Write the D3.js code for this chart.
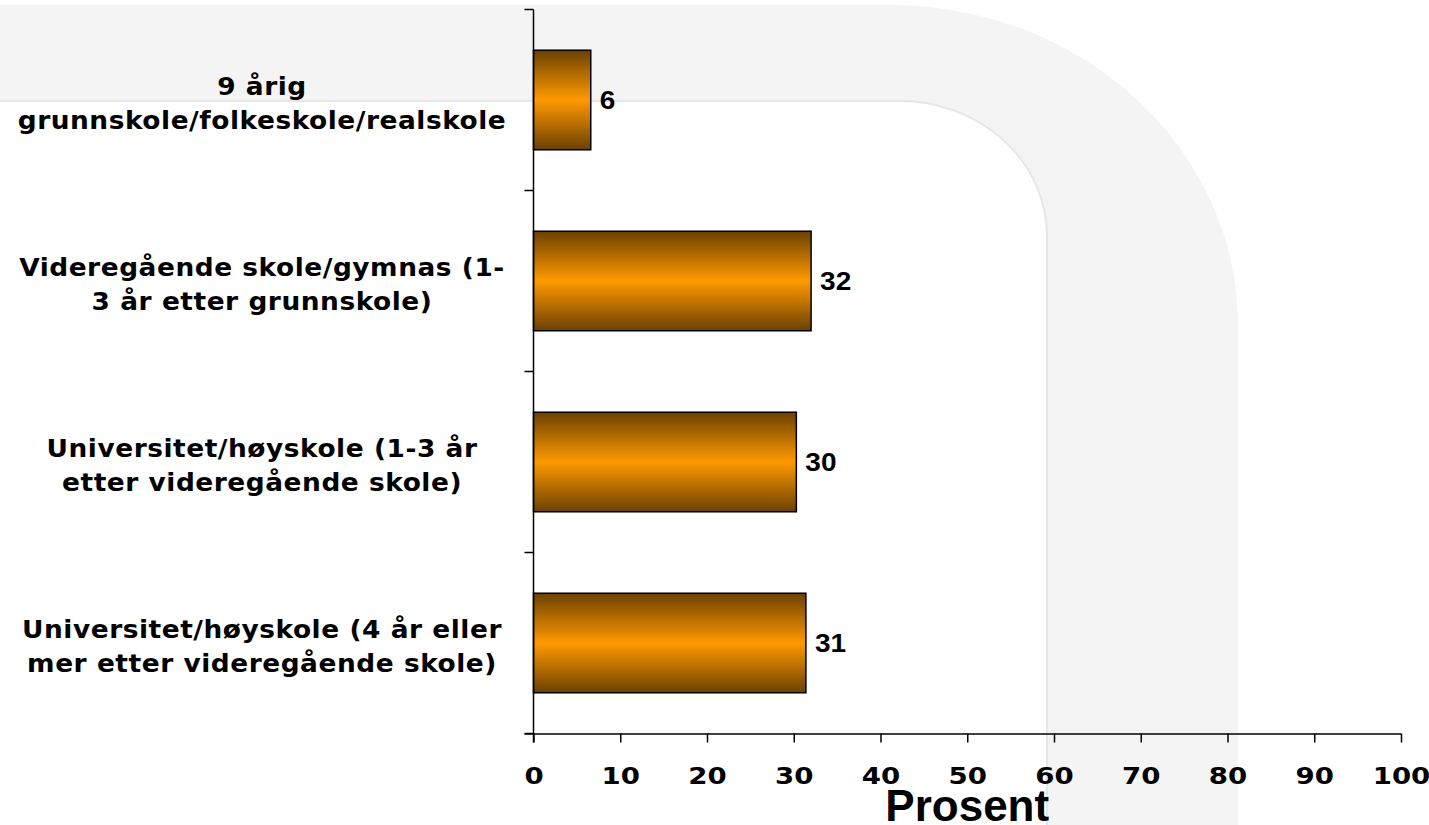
<!DOCTYPE html>
<html>
<head>
<meta charset="utf-8">
<script src="https://cdn.jsdelivr.net/npm/d3@7"></script>
<style>
  body { margin: 0; background: #fff; }
  svg { display: block; }
</style>
</head>
<body>
<svg id="viz" width="1429" height="825"></svg>
<script>
// chart data
var categories = [
  ["9 årig", "grunnskole/folkeskole/realskole"],
  ["Videregående skole/gymnas (1-", "3 år etter grunnskole)"],
  ["Universitet/høyskole (1-3 år", "etter videregående skole)"],
  ["Universitet/høyskole (4 år eller", "mer etter videregående skole)"]
];
var values = [6.6, 32.0, 30.3, 31.4];
var valueLabels = ["6", "32", "30", "31"];
var xTicks = [0, 10, 20, 30, 40, 50, 60, 70, 80, 90, 100];
var xTitle = "Prosent";

var svg = d3.select("#viz"),
  width = +svg.attr("width"),
  height = +svg.attr("height");

var x = d3.scaleLinear().domain([0, 100]).range([533.5, 1401]);
var y = d3
  .scaleBand()
  .domain(d3.range(categories.length))
  .range([9.5, 733.5])
  .paddingInner(0.45)
  .paddingOuter(0.225);

// light grey background band (decoration from the slide)
var bg = svg.append("g").attr("class", "bg");
bg.append("path")
  .attr(
    "d",
    "M0,5 H890 A348,320 0 0 1 1238,325 V825 H1047 V236 A147,135 0 0 0 900,101 H0 Z"
  )
  .attr("fill", "#f4f4f4");
bg.append("path")
  .attr("d", "M0,101 H900 A147,135 0 0 1 1047,236 V825")
  .attr("fill", "none")
  .attr("stroke", "#e6e6e6")
  .attr("stroke-width", 2);

// bar gradient
var defs = svg.append("defs");
var grad = defs
  .append("linearGradient")
  .attr("id", "barGrad")
  .attr("x1", 0)
  .attr("y1", 0)
  .attr("x2", 0)
  .attr("y2", 1);
grad.append("stop").attr("offset", "0%").attr("stop-color", "#6b4100");
grad.append("stop").attr("offset", "50%").attr("stop-color", "#ff9900");
grad.append("stop").attr("offset", "100%").attr("stop-color", "#6b4100");

// bars
svg
  .append("g")
  .attr("class", "bars")
  .selectAll("rect")
  .data(values)
  .enter()
  .append("rect")
  .attr("x", x(0))
  .attr("y", function(d, i) {
    return y(i);
  })
  .attr("width", function(d) {
    return x(d) - x(0);
  })
  .attr("height", y.bandwidth())
  .attr("fill", "url(#barGrad)")
  .attr("stroke", "#000")
  .attr("stroke-width", 1.5);

// value labels (text in the original is a bit stretched sideways)
svg
  .append("g")
  .attr("class", "values")
  .selectAll("text")
  .data(values)
  .enter()
  .append("text")
  .attr("transform", function(d, i) {
    return (
      "translate(" + (x(d) + 9) + "," + (y(i) + y.bandwidth() / 2 + 9) + ") scale(1.12,1)"
    );
  })
  .attr("font-family", "Liberation Sans, Arial, sans-serif")
  .attr("font-weight", "bold")
  .attr("font-size", 25)
  .text(function(d, i) {
    return valueLabels[i];
  });

// x axis
var tickLen = 9;
var xAxis = svg
  .append("g")
  .attr("class", "x-axis")
  .attr("transform", "translate(0," + y.range()[1] + ")")
  .call(
    d3
      .axisBottom(x)
      .tickValues(xTicks)
      .tickSize(tickLen)
      .tickSizeOuter(0)
  );
xAxis.select(".domain").attr("d", "M" + (x(0) - tickLen) + ",0.5H" + x(100));
xAxis.selectAll("line").attr("stroke", "#000").attr("stroke-width", 1.5);
xAxis.select(".domain").attr("stroke", "#000").attr("stroke-width", 1.5);
xAxis
  .selectAll("text")
  .attr("y", 0)
  .attr("dy", 0)
  .attr("transform", "translate(0,50) scale(1.2,1)")
  .attr("fill", "#000")
  .attr("font-family", "DejaVu Sans, Verdana, sans-serif")
  .attr("font-weight", "bold")
  .attr("font-size", 23);

// y axis: ticks at category boundaries
var yAxis = svg.append("g").attr("class", "y-axis");
var bounds = d3.range(categories.length + 1).map(function(i) {
  return y.range()[0] + i * y.step();
});
yAxis
  .append("line")
  .attr("x1", x(0))
  .attr("x2", x(0))
  .attr("y1", bounds[0])
  .attr("y2", y.range()[1] + tickLen)
  .attr("stroke", "#000")
  .attr("stroke-width", 1.5);
yAxis
  .selectAll(".tick")
  .data(bounds)
  .enter()
  .append("line")
  .attr("class", "tick")
  .attr("x1", x(0) - tickLen)
  .attr("x2", x(0))
  .attr("y1", function(d) {
    return d;
  })
  .attr("y2", function(d) {
    return d;
  })
  .attr("stroke", "#000")
  .attr("stroke-width", 1.5);

// category labels
var lineH = 34;
var cat = svg
  .append("g")
  .attr("class", "categories")
  .selectAll("text")
  .data(categories)
  .enter()
  .append("text")
  .attr("transform", function(d, i) {
    return "translate(262," + (y(i) + y.bandwidth() / 2 - 5) + ") scale(1.1,1)";
  })
  .attr("text-anchor", "middle")
  .attr("font-family", "DejaVu Sans, Verdana, sans-serif")
  .attr("font-weight", "bold")
  .attr("font-size", 24)
  .attr("letter-spacing", 0.5)
  .attr("fill", "#000");
cat
  .selectAll("tspan")
  .data(function(d) {
    return d;
  })
  .enter()
  .append("tspan")
  .attr("x", 0)
  .attr("y", function(d, j) {
    return j * lineH;
  })
  .text(function(d) {
    return d;
  });

// axis title
svg
  .append("text")
  .attr("x", x(50))
  .attr("y", 821)
  .attr("text-anchor", "middle")
  .attr("font-family", "Liberation Sans, Arial, sans-serif")
  .attr("font-weight", "bold")
  .attr("font-size", 44)
  .text(xTitle);
</script>
</body>
</html>
